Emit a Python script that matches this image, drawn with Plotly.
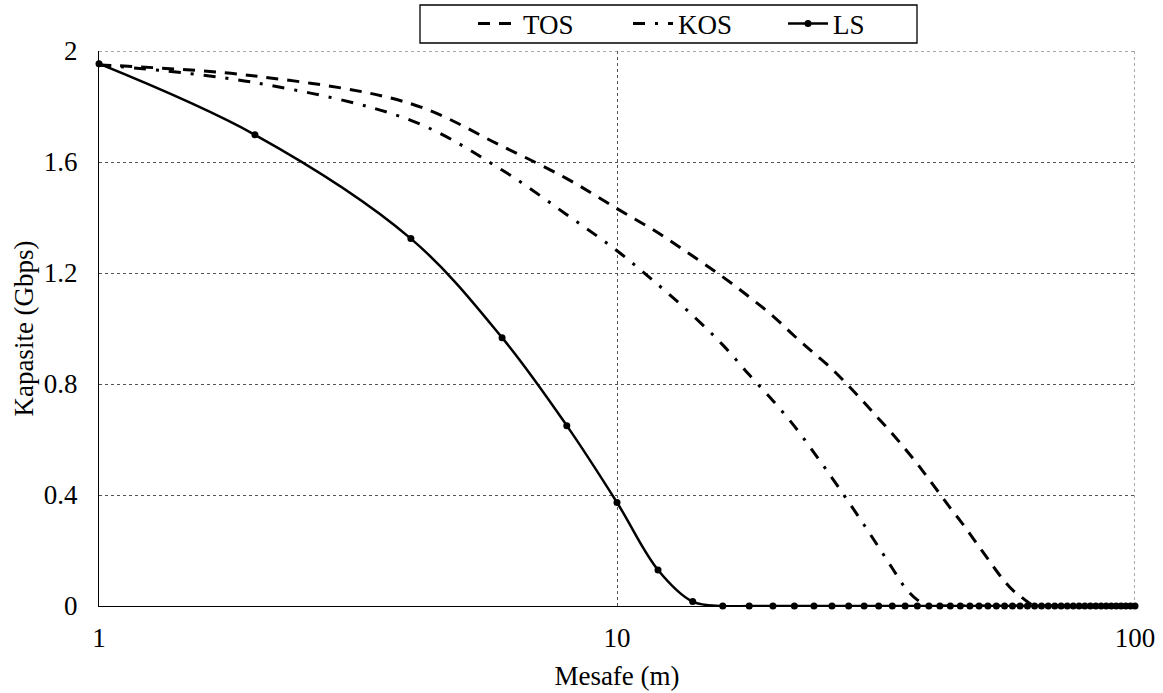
import plotly.graph_objects as go

# ---- data ----
distance_m = [1, 2, 4, 6, 8, 10, 12, 14, 16, 18, 20, 22, 24, 26, 28, 30, 32, 34, 36, 38,
              40, 42, 44, 46, 48, 50, 52, 54, 56, 58, 60, 62, 64, 66, 68, 70, 72, 74, 76,
              78, 80, 82, 84, 86, 88, 90, 92, 94, 96, 98, 100]

tos = [1.950, 1.910, 1.810, 1.657, 1.540, 1.432, 1.345, 1.261, 1.186, 1.114, 1.045,
       0.973, 0.911, 0.854, 0.793, 0.733, 0.675, 0.621, 0.566, 0.512, 0.457, 0.404,
       0.353, 0.307, 0.260, 0.214, 0.170, 0.127, 0.089, 0.058, 0.036, 0.015,
       0, 0, 0, 0, 0, 0, 0, 0, 0, 0, 0, 0, 0, 0, 0, 0, 0, 0, 0]

kos = [1.950, 1.886, 1.750, 1.571, 1.410, 1.280, 1.158, 1.047, 0.941, 0.833, 0.740,
       0.648, 0.553, 0.462, 0.375, 0.292, 0.212, 0.136, 0.066, 0.022,
       0, 0, 0, 0, 0, 0, 0, 0, 0, 0, 0, 0, 0, 0, 0, 0, 0, 0, 0, 0, 0, 0, 0, 0, 0,
       0, 0, 0, 0, 0, 0]

ls = [1.954, 1.698, 1.324, 0.967, 0.650, 0.373, 0.130, 0.016,
      0, 0, 0, 0, 0, 0, 0, 0, 0, 0, 0, 0, 0, 0, 0, 0, 0, 0, 0, 0, 0, 0, 0, 0, 0,
      0, 0, 0, 0, 0, 0, 0, 0, 0, 0, 0, 0, 0, 0, 0, 0, 0, 0]

x_ticks = [1, 10, 100]
x_tick_text = ["1", "10", "100"]
y_ticks = [0, 0.4, 0.8, 1.2, 1.6, 2]
y_tick_text = ["0", "0.4", "0.8", "1.2", "1.6", "2"]

FONT = "Liberation Serif"
FS = 27

fig = go.Figure()
fig.add_trace(go.Scatter(
    x=distance_m, y=tos, name="TOS", mode="lines",
    line=dict(color="black", width=3, dash="12px,9px", shape="spline", smoothing=1),
    cliponaxis=False,
))
fig.add_trace(go.Scatter(
    x=distance_m, y=kos, name="KOS", mode="lines",
    line=dict(color="black", width=3, dash="12px,10px,3px,10px", shape="spline", smoothing=1),
    cliponaxis=False,
))
fig.add_trace(go.Scatter(
    x=distance_m, y=ls, name="LS", mode="lines+markers",
    line=dict(color="black", width=2.5, shape="spline", smoothing=1),
    marker=dict(color="black", size=7),
    cliponaxis=False,
))

W, H = 1163, 693
PL, PR, PT, PB = 99, 1135, 51, 606     # plot area in page pixels
L, T, R, B = PL, PT, W - PR, H - PB
pw = PR - PL
ph = PB - PT


def px2paper(px, py):
    return (px - PL) / pw, (PB - py) / ph


bx0, by0 = px2paper(420, 43)
bx1, by1 = px2paper(917, 5)
fig.add_shape(type="rect", xref="paper", yref="paper", x0=bx0, x1=bx1, y0=by0, y1=by1,
              line=dict(color="black", width=1.3), fillcolor="white", layer="below")

# dotted grid lines at the plot's top and right edges (y = 2, x = 100)
fig.add_shape(type="line", xref="paper", yref="y", x0=0, x1=1, y0=y_ticks[-1], y1=y_ticks[-1],
              line=dict(color="#555", width=1, dash="dot"), layer="below")
fig.add_shape(type="line", xref="x", yref="paper", x0=x_ticks[-1], x1=x_ticks[-1], y0=0, y1=1,
              line=dict(color="#555", width=1, dash="dot"), layer="below")

lx, ly = px2paper(473, 24)

fig.update_layout(
    width=W, height=H,
    margin=dict(l=L, r=R, t=T, b=B, autoexpand=False),
    paper_bgcolor="white", plot_bgcolor="white",
    font=dict(family=FONT, size=FS, color="black"),
    showlegend=True,
    legend=dict(orientation="h", x=lx, y=ly, xanchor="left", yanchor="middle",
                bgcolor="rgba(0,0,0,0)", borderwidth=0,
                font=dict(family=FONT, size=FS, color="black"),
                entrywidth=100, entrywidthmode="pixels", itemwidth=40,
                tracegroupgap=0),
    xaxis=dict(
        type="log", range=[0, 2],
        tickvals=x_ticks, ticktext=x_tick_text,
        showline=True, linecolor="black", linewidth=1.3,
        showgrid=True, gridcolor="#555", griddash="dot", gridwidth=1,
        ticks="", ticklabelstandoff=7, automargin=False,
        zeroline=False,
        title=dict(text="Mesafe (m)", font=dict(family=FONT, size=FS), standoff=14),
    ),
    yaxis=dict(
        range=[0, 2],
        tickvals=y_ticks, ticktext=y_tick_text,
        showline=True, linecolor="black", linewidth=1.3,
        showgrid=True, gridcolor="#555", griddash="dot", gridwidth=1,
        ticks="", ticklabelstandoff=15, automargin=False,
        zeroline=False,
        title=dict(text="Kapasite (Gbps)", font=dict(family=FONT, size=FS), standoff=2),
    ),
)

# remove the default 8px page margin so the figure sits at the page origin
fig.write_html(
    "out.html",
    config={"displayModeBar": False},
    post_script="document.body.style.margin='0px';document.body.style.overflow='hidden';",
)
